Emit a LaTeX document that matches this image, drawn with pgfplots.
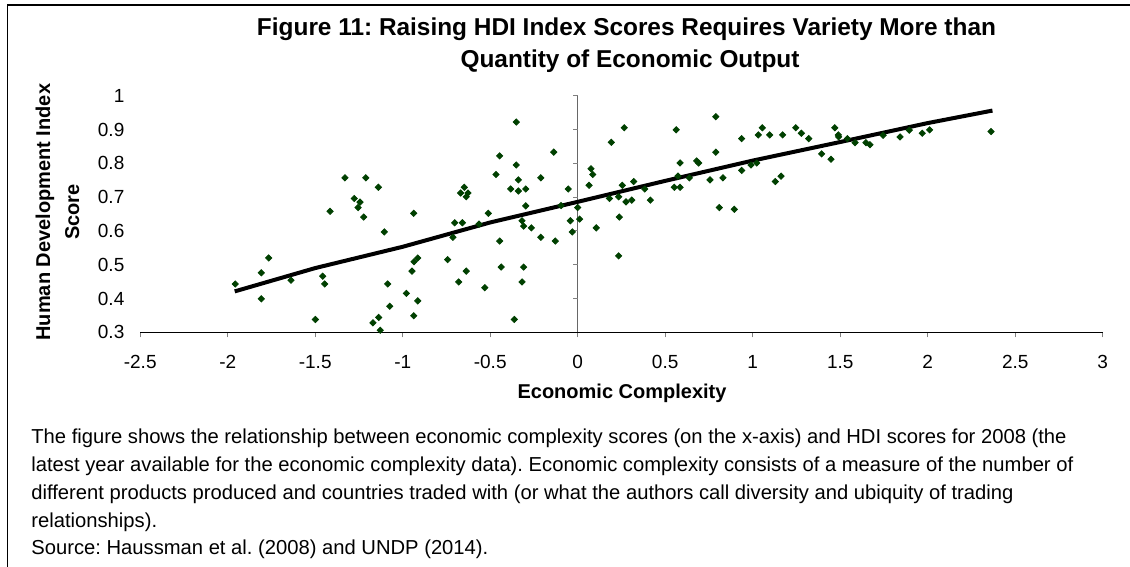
\documentclass[border=0pt]{standalone}
\usepackage{fontspec}
\setmainfont{Liberation Sans}
\usepackage{pgfplots}
\pgfplotsset{compat=1.18}
\definecolor{dotgreen}{RGB}{0,64,0}
\definecolor{tickgray}{RGB}{128,128,128}
\frenchspacing
\pgfplotstableread{
x y
-1.330 0.757
-1.211 0.757
-1.139 0.729
-1.415 0.658
-1.277 0.696
-1.244 0.685
-1.255 0.669
-1.223 0.641
-1.105 0.597
-0.937 0.652
-1.957 0.443
-1.808 0.476
-1.766 0.520
-1.638 0.454
-1.808 0.399
-1.457 0.466
-1.446 0.443
-1.499 0.338
-1.170 0.328
-1.137 0.344
-1.128 0.306
-1.086 0.443
-1.074 0.377
-0.979 0.415
-0.937 0.349
-0.914 0.393
-0.947 0.481
-0.935 0.509
-0.914 0.520
-0.351 0.922
-0.446 0.822
-0.137 0.833
-0.351 0.795
-0.467 0.767
-0.339 0.751
-0.211 0.757
-0.648 0.729
-0.669 0.712
-0.627 0.712
-0.637 0.701
-0.383 0.724
-0.339 0.718
-0.297 0.724
-0.054 0.724
-0.297 0.674
-0.511 0.652
-0.703 0.624
-0.659 0.624
-0.564 0.620
-0.318 0.630
-0.309 0.614
-0.265 0.609
-0.713 0.581
-0.211 0.581
-0.446 0.570
-0.128 0.570
-0.042 0.630
-0.031 0.597
-0.095 0.675
0.000 0.669
0.011 0.635
0.065 0.735
0.076 0.784
0.086 0.767
0.106 0.609
0.192 0.862
0.181 0.696
0.234 0.701
0.238 0.641
0.234 0.526
-0.743 0.515
-0.637 0.481
-0.680 0.449
-0.437 0.493
-0.309 0.493
-0.318 0.449
-0.531 0.432
-0.362 0.338
0.266 0.905
0.255 0.735
0.276 0.686
0.309 0.691
0.320 0.746
0.383 0.724
0.415 0.691
0.563 0.899
0.552 0.729
0.585 0.729
0.573 0.762
0.585 0.801
0.638 0.757
0.680 0.807
0.691 0.801
0.756 0.751
0.789 0.938
0.789 0.833
0.809 0.669
0.830 0.757
0.895 0.664
0.937 0.873
0.937 0.779
0.990 0.795
1.023 0.801
1.032 0.884
1.055 0.905
1.097 0.884
1.129 0.746
1.162 0.762
1.171 0.884
1.246 0.905
1.278 0.889
1.320 0.873
1.394 0.828
1.447 0.812
1.469 0.905
1.489 0.884
1.491 0.878
1.541 0.873
1.585 0.861
1.647 0.861
1.670 0.855
1.745 0.883
1.842 0.878
1.895 0.898
1.969 0.889
2.011 0.899
2.362 0.894
}\scatterdata
\pgfplotstableread{
x y
-1.96 0.421
-1.50 0.490
-1.00 0.553
-0.50 0.625
0.00 0.686
0.50 0.748
1.00 0.808
1.50 0.863
2.00 0.919
2.37 0.956
}\trenddata
\begin{document}
\begin{tikzpicture}
\useasboundingbox (0,0) rectangle (565pt,283.5pt);
\draw[line width=0.8pt] (3.75pt,0) -- (3.75pt,281pt) -- (565pt,281pt);
\node[anchor=base, font=\bfseries\fontsize{12.2}{14}\selectfont] at (313.25pt,265.5pt) {Figure 11: Raising HDI Index Scores Requires Variety More than};
\node[anchor=base, font=\bfseries\fontsize{12.2}{14}\selectfont] at (315pt,249.5pt) {Quantity of Economic Output};
\begin{axis}[
  at={(70.1pt,117.35pt)}, anchor=south west,
  scale only axis, width=481.25pt, height=118.3pt,
  xmin=-2.5, xmax=3, ymin=0.3, ymax=1,
  clip=false,
  axis x line=bottom, axis y line=left,
  x axis line style={-, black, line width=0.6pt},
  y axis line style={draw=none},
  xtick={-2.5,-2,-1.5,-1,-0.5,0,0.5,1,1.5,2,2.5,3},
  ytick={0.3,0.4,0.5,0.6,0.7,0.8,0.9,1},
  xtick style={tickgray, line width=0.6pt},
  ytick style={draw=none},
  tick align=outside,
  major tick length=2.6pt,
  /pgf/number format/assume math mode=true,
  /pgf/number format/.cd, fixed, precision=1, /pgfplots/.cd,
  ticklabel style={font=\fontsize{9.5}{11}\selectfont},
  xticklabel style={yshift=-5.5pt},
  yticklabel style={xshift=-1.8pt},
  xlabel={Economic Complexity},
  xlabel style={font=\bfseries\fontsize{10}{12}\selectfont, at={(axis description cs:0.5006,-0.256)}, anchor=center},
  ylabel={Human Development Index\\Score},
  ylabel style={font=\bfseries\fontsize{10}{14.5}\selectfont, align=center, at={(axis description cs:-0.0859,0.508)}, anchor=center},
]
\draw[tickgray!80!black, line width=0.7pt] (axis cs:0,0.3) -- (axis cs:0,1);
\pgfplotsinvokeforeach{0.4,0.5,0.6,0.7,0.8,0.9,1}{
  \draw[tickgray, line width=0.6pt] (axis cs:0,#1) -- ++(-2.2pt,0pt);
}
\addplot[only marks, mark=square*, mark size=1.1pt, dotgreen, mark options={rotate=45, fill=dotgreen, draw=dotgreen}] table[x=x,y=y] {\scatterdata};
\addplot[black, line width=2pt, no marks] table[x=x,y=y] {\trenddata};
\end{axis}
\begin{scope}[font=\fontsize{10.1}{12}\selectfont]
\node[anchor=base west, inner sep=0] at (15.5pt,61.5pt) {The figure shows the relationship between economic complexity scores (on the x-axis) and HDI scores for 2008 (the};
\node[anchor=base west, inner sep=0] at (15.5pt,47.5pt) {latest year available for the economic complexity data). Economic complexity consists of a measure of the number of};
\node[anchor=base west, inner sep=0] at (15.5pt,33.5pt) {different products produced and countries traded with (or what the authors call diversity and ubiquity of trading};
\node[anchor=base west, inner sep=0] at (15.5pt,19.75pt) {relationships).};
\node[anchor=base west, inner sep=0] at (15.5pt,6pt) {Source: Haussman et al. (2008) and UNDP (2014).};
\end{scope}
\end{tikzpicture}
\end{document}
